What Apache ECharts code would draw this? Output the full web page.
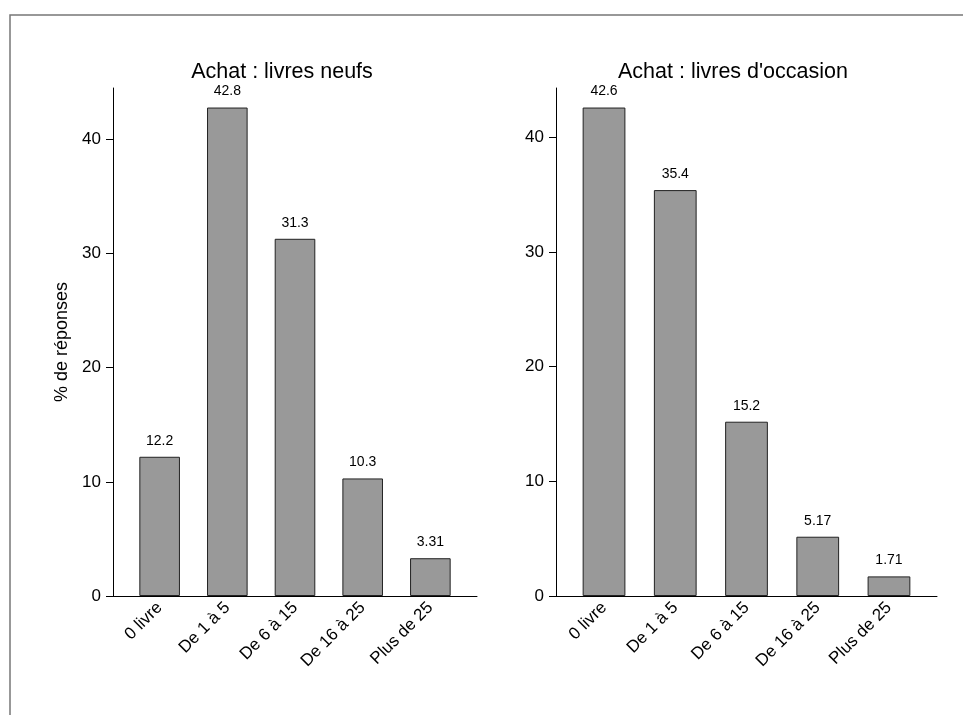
<!DOCTYPE html>
<html>
<head>
<meta charset="utf-8">
<script src="https://cdn.jsdelivr.net/npm/echarts@6/dist/echarts.min.js"></script>
<style>
html,body{margin:0;padding:0;background:#fff;}
#chart{width:963px;height:715px;}
</style>
</head>
<body>
<div id="chart"></div>
<script>
var categories = ['0 livre', 'De 1 à 5', 'De 6 à 15', 'De 16 à 25', 'Plus de 25'];
var neufsValues = [12.2, 42.8, 31.3, 10.3, 3.31];
var occasionValues = [42.6, 35.4, 15.2, 5.17, 1.71];
var titles = ['Achat : livres neufs', "Achat : livres d'occasion"];
var yAxisName = '% de réponses';

var FONT = 'Liberation Sans, Arial, sans-serif';
var leftMax = Math.max.apply(null, neufsValues) * 1.04;
var rightMax = Math.max.apply(null, occasionValues) * 1.04;

function frameX(gi) {
  return {
    type: 'value', gridIndex: gi, min: 0, max: 1,
    axisLine: {show: true, onZero: false, lineStyle: {color: '#000', width: 1}},
    axisTick: {show: false}, axisLabel: {show: false}, splitLine: {show: false}
  };
}
function catX(gi) {
  return {
    type: 'category', gridIndex: gi, data: categories,
    axisLine: {show: false}, axisTick: {show: false}, splitLine: {show: false},
    axisLabel: {rotate: 45, fontSize: 17, color: '#000', fontFamily: FONT, margin: 9, interval: 0}
  };
}
function frameY(gi, max, withName) {
  var o = {
    type: 'value', gridIndex: gi, min: 0, max: max, interval: 10,
    axisLine: {show: true, lineStyle: {color: '#000', width: 1}},
    axisTick: {show: true, length: 7, lineStyle: {color: '#000'}},
    axisLabel: {fontSize: 17, color: '#000', fontFamily: FONT, margin: 12,
      showMaxLabel: false},
    splitLine: {show: false}
  };
  if (withName) {
    o.name = yAxisName;
    o.nameLocation = 'middle';
    o.nameRotate = 90;
    o.nameGap = 42;
    o.nameTextStyle = {fontSize: 18, color: '#000', fontFamily: FONT};
  }
  return o;
}
function hiddenY(gi, max) {
  return {type: 'value', gridIndex: gi, min: 0, max: max, show: false, splitLine: {show: false}};
}
function barSeries(xi, yi, vals) {
  return {
    type: 'bar', xAxisIndex: xi, yAxisIndex: yi, data: vals,
    barCategoryGap: '40%',
    itemStyle: {color: '#999999', borderColor: '#222', borderWidth: 1},
    label: {show: true, position: 'top', distance: 9, fontSize: 14, color: '#000', fontFamily: FONT},
    animation: false
  };
}

var chart = echarts.init(document.getElementById('chart'), null, {renderer: 'canvas'});
chart.setOption({
  backgroundColor: '#fff',
  animation: false,
  graphic: [{
    type: 'rect', shape: {x: 10, y: 15, width: 1000, height: 800},
    style: {fill: 'none', stroke: '#777', lineWidth: 1.5}, silent: true
  }],
  title: [
    {text: titles[0], left: 277, top: 56, textAlign: 'center',
     textStyle: {fontSize: 21.5, fontWeight: 'normal', color: '#000', fontFamily: FONT}},
    {text: titles[1], left: 728, top: 56, textAlign: 'center',
     textStyle: {fontSize: 21.5, fontWeight: 'normal', color: '#000', fontFamily: FONT}}
  ],
  grid: [
    {left: 113, top: 88, width: 364, height: 508},
    {left: 125.8, top: 88, width: 338.4, height: 508},
    {left: 556, top: 88, width: 381, height: 508},
    {left: 568.4, top: 88, width: 356.2, height: 508}
  ],
  xAxis: [frameX(0), catX(1), frameX(2), catX(3)],
  yAxis: [frameY(0, leftMax, true), hiddenY(1, leftMax), frameY(2, rightMax, false), hiddenY(3, rightMax)],
  series: [barSeries(1, 1, neufsValues), barSeries(3, 3, occasionValues)]
});
</script>
</body>
</html>
